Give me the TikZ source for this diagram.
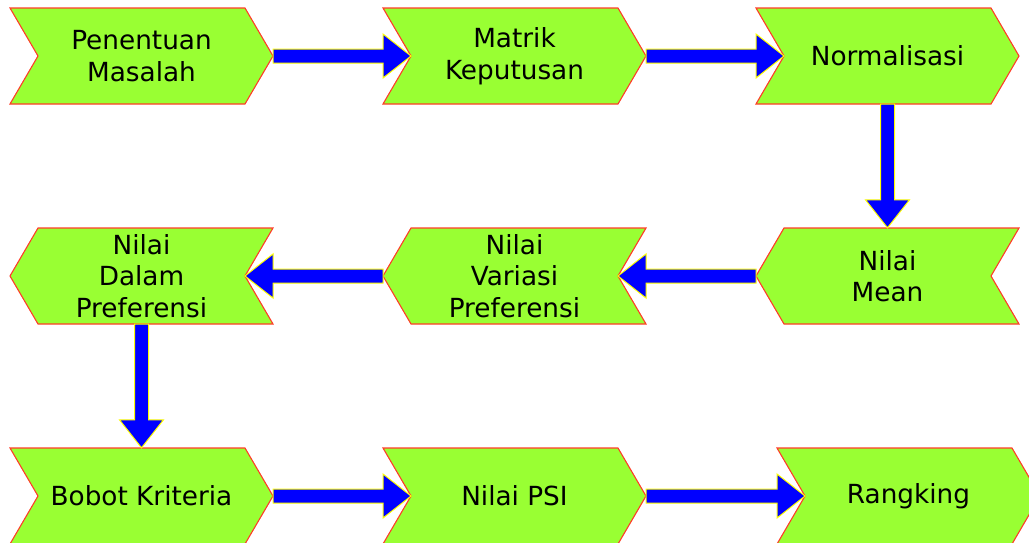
\documentclass[tikz,border=0pt]{standalone}
\usepackage{fontspec}
\setmainfont{DejaVu Sans}
\usetikzlibrary{calc}

\definecolor{stepgreen}{RGB}{153,255,51}
\definecolor{stepred}{RGB}{255,60,40}
\definecolor{flowblue}{RGB}{0,0,255}
\definecolor{flowyellow}{RGB}{255,255,0}

\tikzset{
  chev/.style={fill=stepgreen, draw=stepred, line width=1.1pt, line join=miter},
  lbl/.style={align=center, inner sep=0pt, minimum width=200pt, minimum height=96pt,
              font=\fontsize{26.3}{31.5}\selectfont},
  flow/.style={fill=flowblue, draw=flowyellow, line width=1pt, line join=miter},
}

% chevron pointing right: name, left x, centre y, text
\newcommand\chevR[4]{%
  \draw[chev] (#2,#3-48) -- ++(235,0) -- ++(28,48) -- ++(-28,48) -- ++(-235,0) -- ++(28,-48) -- cycle;
  \node[lbl] (#1) at (#2+131.5,#3) {#4};
  \coordinate (#1-tip) at (#2+263,#3);
  \coordinate (#1-notch) at (#2+28,#3);
}
% chevron pointing left: name, left x, centre y, text
\newcommand\chevL[4]{%
  \draw[chev] (#2+28,#3-48) -- ++(235,0) -- ++(-28,48) -- ++(28,48) -- ++(-235,0) -- ++(-28,-48) -- cycle;
  \node[lbl] (#1) at (#2+131.5,#3) {#4};
  \coordinate (#1-tip) at (#2,#3);
  \coordinate (#1-notch) at (#2+235,#3);
}
% thick horizontal arrow between two points
\newcommand\harrow[2]{%
  \draw[flow] let \p1=(#1), \p2=(#2), \n1={sign(\x2-\x1)} in
    (\x1,{\y1+7pt}) -- ({\x2-\n1*28pt},{\y1+7pt}) -- ({\x2-\n1*28pt},{\y1+22pt})
    -- (\x2,\y1) -- ({\x2-\n1*28pt},{\y1-22pt}) -- ({\x2-\n1*28pt},{\y1-7pt})
    -- (\x1,{\y1-7pt}) -- cycle;
}
% thick vertical arrow between two points
\newcommand\varrow[2]{%
  \draw[flow] let \p1=(#1), \p2=(#2), \n1={sign(\y2-\y1)} in
    ({\x1-7pt},\y1) -- ({\x1-7pt},{\y2-\n1*28pt}) -- ({\x1-22pt},{\y2-\n1*28pt})
    -- (\x1,\y2) -- ({\x1+22pt},{\y2-\n1*28pt}) -- ({\x1+7pt},{\y2-\n1*28pt})
    -- ({\x1+7pt},\y1) -- cycle;
}

\begin{document}
\begin{tikzpicture}[x=1pt,y=-1pt]
  \useasboundingbox (0,0) rectangle (1029,542);

  % first row
  \chevR{masalah}{10}{56}{Penentuan\\Masalah}
  \chevR{matrik}{383}{56}{Matrik\\Keputusan}
  \chevR{norm}{756}{56}{Normalisasi}

  % second row
  \chevL{dalam}{10}{276}{Nilai\\Dalam\\Preferensi}
  \chevL{variasi}{383}{276}{Nilai\\Variasi\\Preferensi}
  \chevL{mean}{756}{276}{Nilai\\Mean}

  % third row
  \chevR{bobot}{10}{496}{Bobot Kriteria}
  \chevR{psi}{383}{496}{Nilai PSI}
  \chevR{rank}{777}{496}{Rangking}

  % flow
  \harrow{masalah-tip}{matrik-notch}
  \harrow{matrik-tip}{norm-notch}
  \varrow{norm.south}{mean.north}
  \harrow{mean-tip}{variasi-notch}
  \harrow{variasi-tip}{dalam-notch}
  \varrow{dalam.south}{bobot.north}
  \harrow{bobot-tip}{psi-notch}
  \harrow{psi-tip}{rank-notch}
\end{tikzpicture}
\end{document}
